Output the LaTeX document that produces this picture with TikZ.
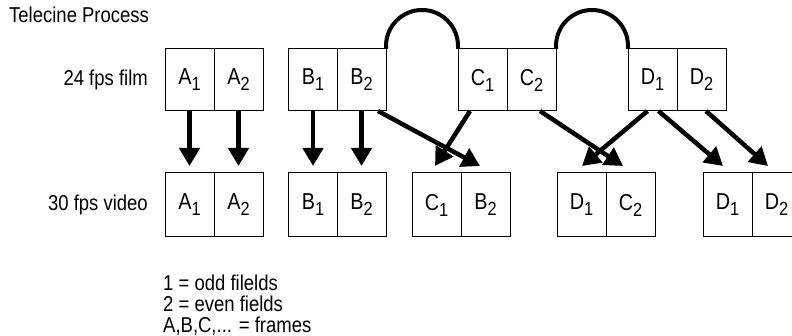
\documentclass[tikz,border=0pt]{standalone}
\usepackage{fontspec}
\setmainfont{Liberation Sans}[FakeStretch=0.86]
\usetikzlibrary{arrows.meta,calc}
% field label: frame letter with a lowered field number
\newcommand{\fld}[2]{#1\raisebox{-6pt}{\fontsize{19}{19}\selectfont #2}}
\begin{document}
\begin{tikzpicture}[x=1pt,y=-1pt,
  field/.style={draw, line width=1pt, minimum width=49pt, minimum height=62pt,
    inner sep=0pt, outer sep=0pt, font=\fontsize{23}{23}\selectfont},
  vfield/.style={field, minimum height=64pt},
  lbl/.style={font=\fontsize{21.5}{24}\selectfont, inner sep=0pt},
  pull/.style={line width=4.5pt, -{Triangle[width=20pt,length=18pt]}},
  loop/.style={line width=4pt}]
\useasboundingbox (0,0) rectangle (792,336);
\clip (0,0) rectangle (792,336);

% captions
\node[lbl, anchor=base west] (title) at (9,23) {Telecine Process};
\node[lbl, anchor=base east] (film) at (148,86) {24 fps film};
\node[lbl, anchor=base east] (video) at (148,211) {30 fps video};

% film fields
\node[field] (tA1) at (189.5,80) {\fld{A}{1}};
\node[field] (tA2) at (238.5,80) {\fld{A}{2}};
\node[field] (tB1) at (313,80)   {\fld{B}{1}};
\node[field] (tB2) at (361.5,80) {\fld{B}{2}};
\node[field] (tC1) at (482.5,80) {\fld{C}{1}};
\node[field] (tC2) at (531.5,80) {\fld{C}{2}};
\node[field] (tD1) at (652.5,80) {\fld{D}{1}};
\node[field] (tD2) at (701.5,80) {\fld{D}{2}};

% video fields
\node[vfield] (bA1) at (189.5,205) {\fld{A}{1}};
\node[vfield] (bA2) at (238.5,205) {\fld{A}{2}};
\node[vfield] (bB1) at (313,205)   {\fld{B}{1}};
\node[vfield] (bB2) at (361.5,205) {\fld{B}{2}};
\node[vfield] (bC1) at (436.5,205) {\fld{C}{1}};
\node[vfield] (bB2x) at (485.5,205) {\fld{B}{2}};
\node[vfield] (bD1) at (581.5,205) {\fld{D}{1}};
\node[vfield] (bC2) at (630.5,205) {\fld{C}{2}};
\node[vfield] (bD1x) at (727.5,205) {\fld{D}{1}};
\node[vfield] (bD2x) at (776.5,205) {\fld{D}{2}};

% loops joining consecutive frames
\draw[loop] (tB2.north east) -- ++(0,-3)
  .. controls +(0,-19.9) and +(-19.9,0) .. ++(36,-36)
  .. controls +(19.9,0) and +(0,-19.9) .. ($(tC1.north west)+(0,-3)$)
  -- (tC1.north west);
\draw[loop] (tC2.north east) -- ++(0,-3)
  .. controls +(0,-19.9) and +(-19.9,0) .. ++(36,-36)
  .. controls +(19.9,0) and +(0,-19.9) .. ($(tD1.north west)+(0,-3)$)
  -- (tD1.north west);

% field transfers
\draw[pull] (tA1.south) -- ($(bA1.north)+(0,-7)$);
\draw[pull] (tA2.south) -- ($(bA2.north)+(0,-7)$);
\draw[pull] (tB1.south) -- ($(bB1.north)+(0,-7)$);
\draw[pull] (tB2.south) -- ($(bB2.north)+(0,-7)$);
\draw[pull] ($(tB2.south)+(16.5,0)$) -- ($(bB2x.north)+(-5.5,-7)$);
\draw[pull] ($(tC1.south)+(-12.5,0)$) -- ($(bC1.north)+(-1.5,-7)$);
\draw[pull] ($(tC2.south)+(8.5,0)$) -- ($(bC2.north)+(-7.5,-7)$);
\draw[pull] ($(tD1.south)+(-5,0)$) -- ($(bD1.north)+(0.5,-7)$);
\draw[pull] ($(tD1.south)+(6,0)$) -- ($(bD1x.north)+(-4.5,-7)$);
\draw[pull] ($(tD2.south)+(4.5,0)$) -- ($(bD2x.north)+(-8.5,-7)$);

% key
\node[lbl, anchor=base west] (k1) at (163,291) {1 = odd filelds};
\node[lbl, anchor=base west] (k2) at (163,312) {2 = even fields};
\node[lbl, anchor=base west] (k3) at (163,333) {A,B,C,... = frames};
\end{tikzpicture}
\end{document}
